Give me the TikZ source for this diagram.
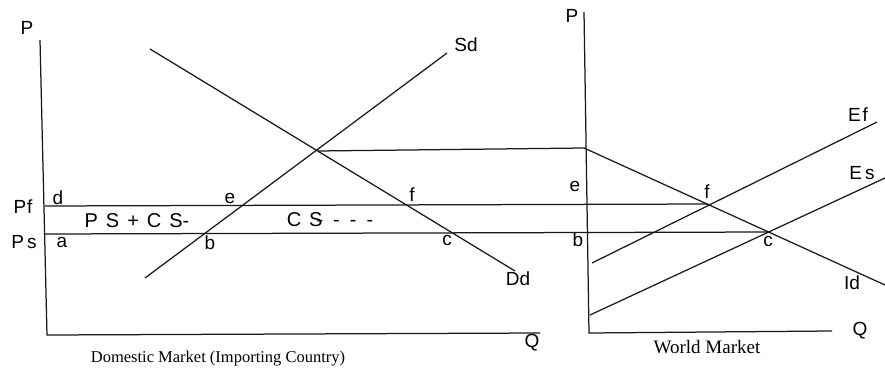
\documentclass[tikz,border=0pt]{standalone}
\usepackage{fontspec}
\setmainfont{Liberation Serif}
\setsansfont{Liberation Sans}
\usetikzlibrary{calc}
\newcommand{\lsp}{\hspace{8pt}}
\newcommand{\dsp}{\hspace{10pt}}

\begin{document}
\begin{tikzpicture}[x=1pt,y=-1pt,
    curve/.style={line width=1.25pt, black!90},
    lbl/.style={font=\sffamily\fontsize{19}{19}\selectfont, inner sep=0pt},
    area/.style={font=\sffamily\fontsize{20}{20}\selectfont, inner sep=0pt},
    capt/.style={font=\fontsize{16.5}{16.5}\selectfont, inner sep=0pt}]
    \useasboundingbox (0,0) rectangle (885,377);

    % Domestic market corners
    \coordinate (dTop) at (40,40);
    \coordinate (dO) at (47,335);
    \coordinate (dEnd) at (540,333);

    % Domestic supply and demand
    \coordinate (sdLow) at (145,278);
    \coordinate (sdHigh) at (447,53);
    \coordinate (ddHigh) at (150,49);
    \coordinate (ddLow) at (515,271);
    \coordinate (eqm) at (318,151);

    % World market corners
    \coordinate (wTop) at (584,12);
    \coordinate (wO) at (589,333);
    \coordinate (wEnd) at (832,331);
    \coordinate (wEqm) at (584,148);

    % Excess curves
    \coordinate (idLow) at (885,285);
    \coordinate (efLow) at (592,263);
    \coordinate (efHigh) at (877,122);
    \coordinate (esLow) at (590,315);
    \coordinate (esHigh) at (885,178);
    \coordinate (wf) at (708,204);
    \coordinate (wc) at (770,232);

    % Price lines
    \coordinate (pfStart) at (45,206);
    \coordinate (psStart) at (45,234);

    % Axes
    \draw[curve] (dTop) -- (dO) -- (dEnd);
    \draw[curve] (wTop) -- (wO) -- (wEnd);

    % Curves
    \draw[curve] (sdLow) -- (sdHigh);
    \draw[curve] (ddHigh) -- (ddLow);
    \draw[curve] (wEqm) -- (idLow);
    \draw[curve] (efLow) -- (efHigh);
    \draw[curve] (esLow) -- (esHigh);

    % Horizontal links
    \draw[curve] (eqm) -- (wEqm);
    \draw[curve] (pfStart) -- (wf);
    \draw[curve] (psStart) -- (wc);

    % Domestic labels
    \node[lbl] (dP) at (27,28) {P};
    \node[lbl] (dQ) at (532,343) {Q};
    \node[lbl] (pf) at (23,207) {P\hspace{1pt}f};
    \node[lbl] (ps) at (24,242) {P\hspace{3pt}s};
    \node[lbl] (ld) at (58,198) {d};
    \node[lbl] (la) at (62,242) {a};
    \node[lbl] (le) at (230,198) {e};
    \node[lbl] (lb) at (210,243) {b};
    \node[lbl] (lf) at (412,195) {f};
    \node[lbl] (lc) at (447,240) {c};
    \node[lbl] (sd) at (466,45) {Sd};
    \node[lbl] (dd) at (518,279) {Dd};
    \node[area] (gain) at (137,221) {P\lsp S\lsp+\lsp C\lsp S-};
    \node[area] (loss) at (330,220) {C\lsp S\kern-6pt-\dsp-\dsp-\dsp-};

    % World labels
    \node[lbl] (wP) at (572,16) {P};
    \node[lbl] (wQ) at (860,331) {Q};
    \node[lbl] (we) at (575,186) {e};
    \node[lbl] (wb) at (578,240) {b};
    \node[lbl] (wfl) at (707,192) {f};
    \node[lbl] (wcl) at (768,241) {c};
    \node[lbl] (ef) at (858,115) {E\hspace{2pt}f};
    \node[lbl] (es) at (862,173) {E\hspace{3pt}s};
    \node[lbl] (id) at (852,283) {Id};

    % Captions
    \node[capt] (dCap) at (218,359) {Domestic Market (Importing Country)};
    \node[capt, font=\fontsize{19}{19}\selectfont] (wCap) at (707,347) {World Market};
\end{tikzpicture}
\end{document}
